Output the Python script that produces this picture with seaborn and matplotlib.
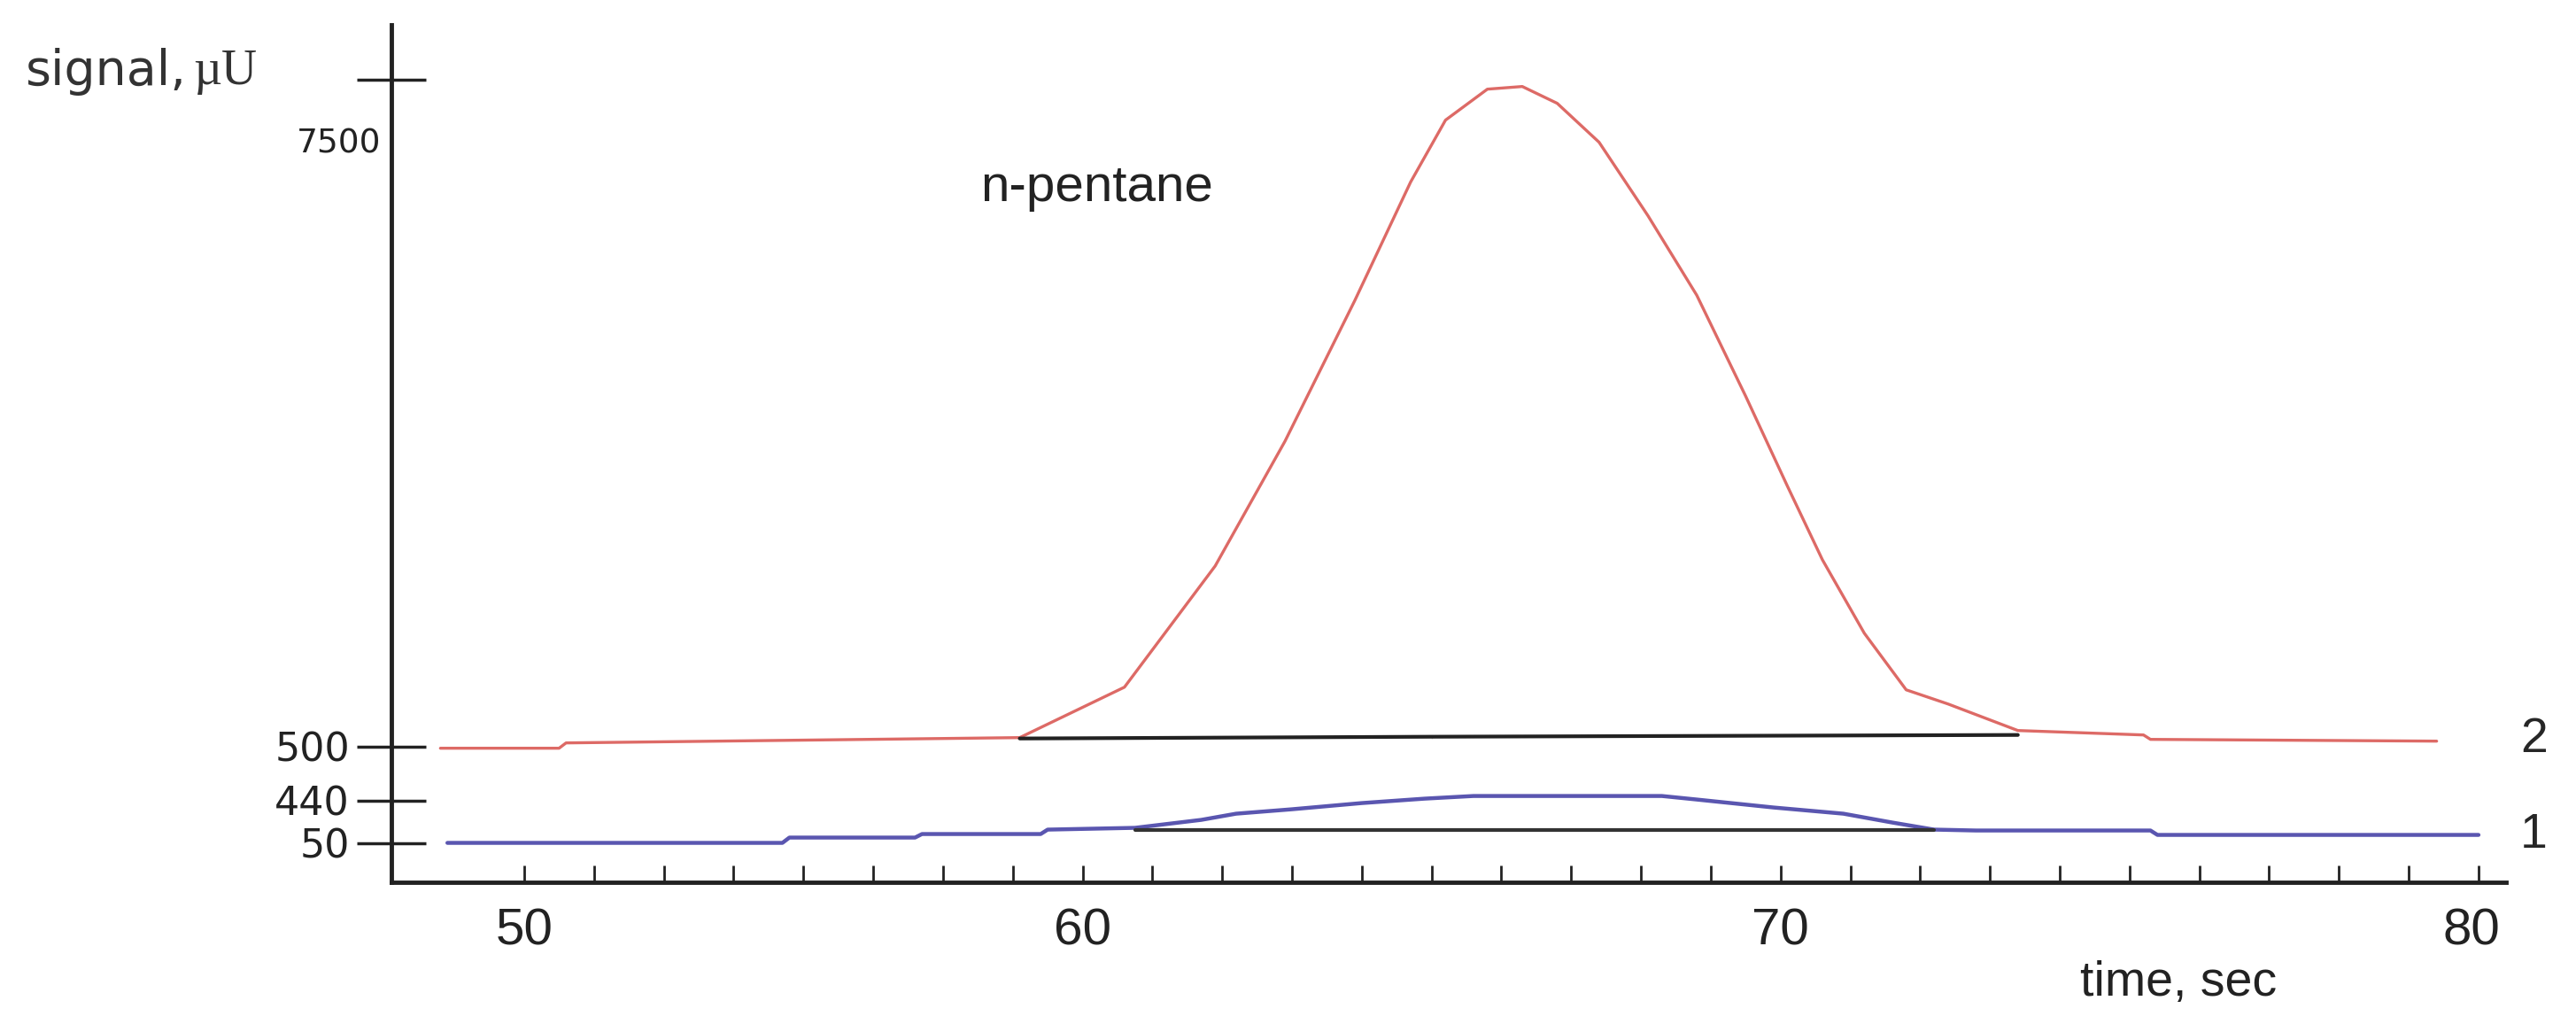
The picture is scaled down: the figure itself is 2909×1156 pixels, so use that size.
import numpy as np
import pandas as pd
import matplotlib
matplotlib.use('Agg')
import matplotlib.pyplot as plt
import seaborn as sns

# ------------------------------------------------------------
# data (x in time ticks, y in the chart's own display height)
# ------------------------------------------------------------
red_t = [50.8, 52.5, 52.6, 59.1, 60.6, 61.9, 62.9, 63.9, 64.7, 65.2, 65.8, 66.3,
         66.8, 67.4, 68.1, 68.8, 69.5, 70.1, 70.6, 71.2, 71.8, 72.4, 73.4, 75.2,
         75.3, 79.4]
red_h = [152, 152, 158, 164, 221, 358, 499, 658, 792, 862, 897, 900,
         881, 837, 754, 664, 550, 448, 365, 282, 218, 202, 172, 167,
         162, 160]

blue_t = [50.9, 55.7, 55.8, 57.6, 57.7, 59.4, 59.5, 60.75, 61.7, 62.2, 63.0, 64.0,
          64.9, 65.6, 68.3, 68.8, 69.9, 70.9, 71.6, 72.2, 72.8, 75.3, 75.4, 80.0]
blue_h = [45, 45, 51, 51, 55, 55, 60, 62, 71, 78, 83, 90,
          95, 98, 98, 94, 85, 78, 68, 60, 59, 59, 54, 54]

base2_t = [59.1, 65.0, 65.0, 73.4]
base2_h = [163, 163, 167, 167]
base1_t = [60.75, 72.2]
base1_h = [60, 60]

ytick_pos = [45, 93, 154, 908]
ytick_txt = ['50', '440', '500', '']
xlabel_pos = [52, 60, 70, 79.9]
xlabel_txt = ['50', '60', '70', '80']
minor_pos = list(range(52, 81))

# ------------------------------------------------------------
# plot
# ------------------------------------------------------------
sns.set_style('white')
narrow = ['Liberation Sans Narrow', 'Liberation Sans', 'DejaVu Sans']

fig = plt.figure(figsize=(29.09, 11.56), dpi=100)
ax = fig.add_axes([0.152, 0.138, 0.821, 0.838])

sns.lineplot(x=red_t, y=red_h, color='#dd6a66', lw=2.4, ax=ax, sort=False)
sns.lineplot(x=blue_t, y=blue_h, color='#5a56b0', lw=3.2, ax=ax, sort=False)
sns.lineplot(x=base2_t, y=base2_h, color='#222222', lw=3.0, ax=ax, sort=False)
sns.lineplot(x=base1_t, y=base1_h, color='#333333', lw=3.0, ax=ax, sort=False)

ax.set_xlim(50.1, 80.4)
ax.set_ylim(0, 970)
for s in ['top', 'right']:
    ax.spines[s].set_visible(False)
for s in ['left', 'bottom']:
    ax.spines[s].set_linewidth(3.5)
    ax.spines[s].set_color('#222222')

ax.set_yticks(ytick_pos)
ax.set_yticklabels(ytick_txt, fontsize=32, color='#222222')
ax.tick_params(axis='y', left=True, direction='inout', length=56, width=2.5,
               pad=6, color='#222222')

ax.set_xticks(minor_pos)
ax.set_xticklabels([])
ax.tick_params(axis='x', bottom=True, direction='in', length=14, width=2,
               color='#222222')
for p, t in zip(xlabel_pos, xlabel_txt):
    ax.text(p, -28, t, ha='center', va='top', fontsize=42, family=narrow,
            color='#222222', clip_on=False)

ax.text(75.7, -88, 'time, sec', ha='center', va='top', fontsize=40,
        family=narrow, color='#222222', clip_on=False)
ax.text(80.6, 162, '2', ha='left', va='center', fontsize=40, family=narrow, clip_on=False)
ax.text(80.6, 54, '1', ha='left', va='center', fontsize=40, family=narrow, clip_on=False)
ax.text(49.95, 835, '7500', ha='right', va='center', fontsize=27, color='#222222', clip_on=False)
fig.text(0.01, 0.93, 'signal,', ha='left', va='center', fontsize=40, color='#333333')
fig.text(0.075, 0.93, 'µU', ha='left', va='center', fontsize=40, color='#333333',
         family=['Liberation Serif', 'DejaVu Serif'])
ax.text(60.2, 786, 'n-pentane', ha='center', va='center', fontsize=42, family=narrow,
        color='#222222')

plt.savefig('out.png', dpi=100)
